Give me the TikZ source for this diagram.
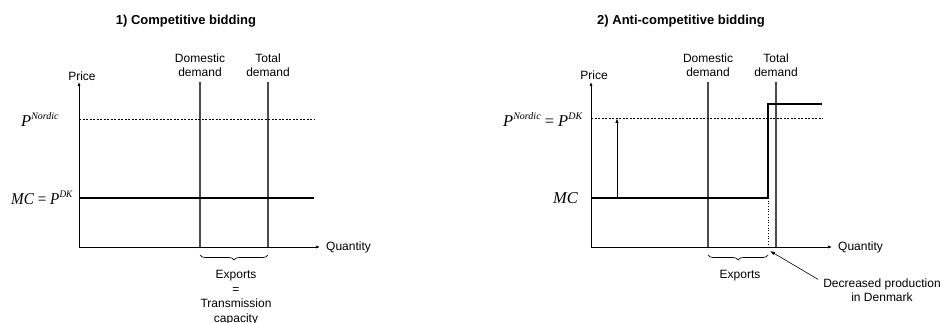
\documentclass[tikz,border=0pt]{standalone}
\usepackage{fontspec}
\setmainfont{Liberation Sans}
\newfontfamily\timesfont{Liberation Serif}
\usetikzlibrary{arrows.meta, positioning, decorations.pathreplacing}

\newcommand{\supi}[1]{\raisebox{7.5pt}{\fontsize{10}{10}\selectfont\itshape #1}}
\newcommand{\pnordic}{\textit{P}\supi{Nordic}}
\newcommand{\pdk}{\textit{P}\supi{DK}}

\begin{document}
\begin{tikzpicture}[x=1pt, y=1pt,
  lbl/.style={font=\fontsize{12}{14}\selectfont, align=center, inner sep=0pt},
  ttl/.style={font=\bfseries\fontsize{13}{15}\selectfont, inner sep=0pt},
  mth/.style={font=\timesfont\fontsize{16.5}{16.5}\selectfont, inner sep=0pt, anchor=base west},
  axis/.style={-{Latex[length=4pt,width=3pt]}, line width=0.7pt},
  demand/.style={line width=1.1pt, black!70},
  price/.style={dash pattern=on 2pt off 1.5pt, line width=0.7pt},
  supply/.style={line width=1.5pt},
  ptr/.style={-{Latex[length=5pt,width=3.5pt]}, line width=0.6pt},
  brace/.style={decorate, decoration={brace, mirror, amplitude=5pt}, line width=0.7pt}
]
\useasboundingbox (0,0) rectangle (940,-323);

% 1) competitive bidding
\node[ttl] (t1) at (186,-21) {1) Competitive bidding};
\coordinate (o1) at (79,-247);
\coordinate (y1) at (79,-82);
\coordinate (x1) at (320,-247);
\draw[axis] (o1) -- (y1);
\draw[axis] (o1) -- (x1);
\node[lbl] (pr1) at (82,-76) {Price};
\node[lbl, right=6pt of x1] (q1) {Quantity};

\node[lbl] (dd1) at (200,-65) {Domestic\\demand};
\node[lbl] (td1) at (268,-65) {Total\\demand};
\coordinate (dd1b) at (200,-247);
\coordinate (td1b) at (268,-247);
\draw[demand] (200,-82) -- (dd1b);
\draw[demand] (268,-82) -- (td1b);

\draw[price] (79,-119) -- (314,-119);
\draw[supply] (79,-198) -- (314,-198);
\node[mth] (pn1) at (21,-127) {\pnordic};
\node[mth, xscale=0.92] (mc1) at (11,-205) {\textit{MC} = \pdk};

\draw[brace] ([yshift=-8pt]dd1b) -- ([yshift=-8pt]td1b);
\node[lbl, font=\fontsize{12}{14.5}\selectfont] (ex1) at (236,-297.5) {Exports\\=\\Transmission\\capacity};

% 2) anti-competitive bidding
\node[ttl] (t2) at (681,-21) {2) Anti-competitive bidding};
\coordinate (o2) at (591,-247);
\coordinate (y2) at (591,-82);
\coordinate (x2) at (832,-247);
\draw[axis] (o2) -- (y2);
\draw[axis] (o2) -- (x2);
\node[lbl] (pr2) at (594,-75) {Price};
\node[lbl, right=6pt of x2] (q2) {Quantity};

\node[lbl] (dd2) at (708,-65) {Domestic\\demand};
\node[lbl] (td2) at (776,-65) {Total\\demand};
\coordinate (dd2b) at (708,-247);
\coordinate (td2b) at (776,-247);
\draw[demand] (708,-82) -- (dd2b);
\draw[demand] (776,-82) -- (td2b);

\draw[price] (591,-118) -- (823,-118);
\coordinate (cut) at (768,-247);
\draw[supply] (591,-198) -- (768,-198) -- (768,-104) -- (822,-104);
\draw[dotted, line width=0.7pt] (768,-198) -- (cut);
\draw[ptr, line width=0.9pt] (617,-198) -- (617,-118);
\node[mth] (pn2) at (503,-127) {\pnordic{} = \pdk};
\node[mth] (mc2) at (553,-204) {\textit{MC}};

\draw[brace] ([yshift=-8pt]dd2b) -- ([yshift=-8pt]cut);
\node[lbl] (ex2) at (740,-276) {Exports};
\node[lbl] (dec) at (882,-290) {Decreased production\\in Denmark};
\draw[ptr] ([xshift=-5pt,yshift=-1pt]dec.north west) -- ([xshift=2pt,yshift=-4pt]cut);

\end{tikzpicture}
\end{document}
